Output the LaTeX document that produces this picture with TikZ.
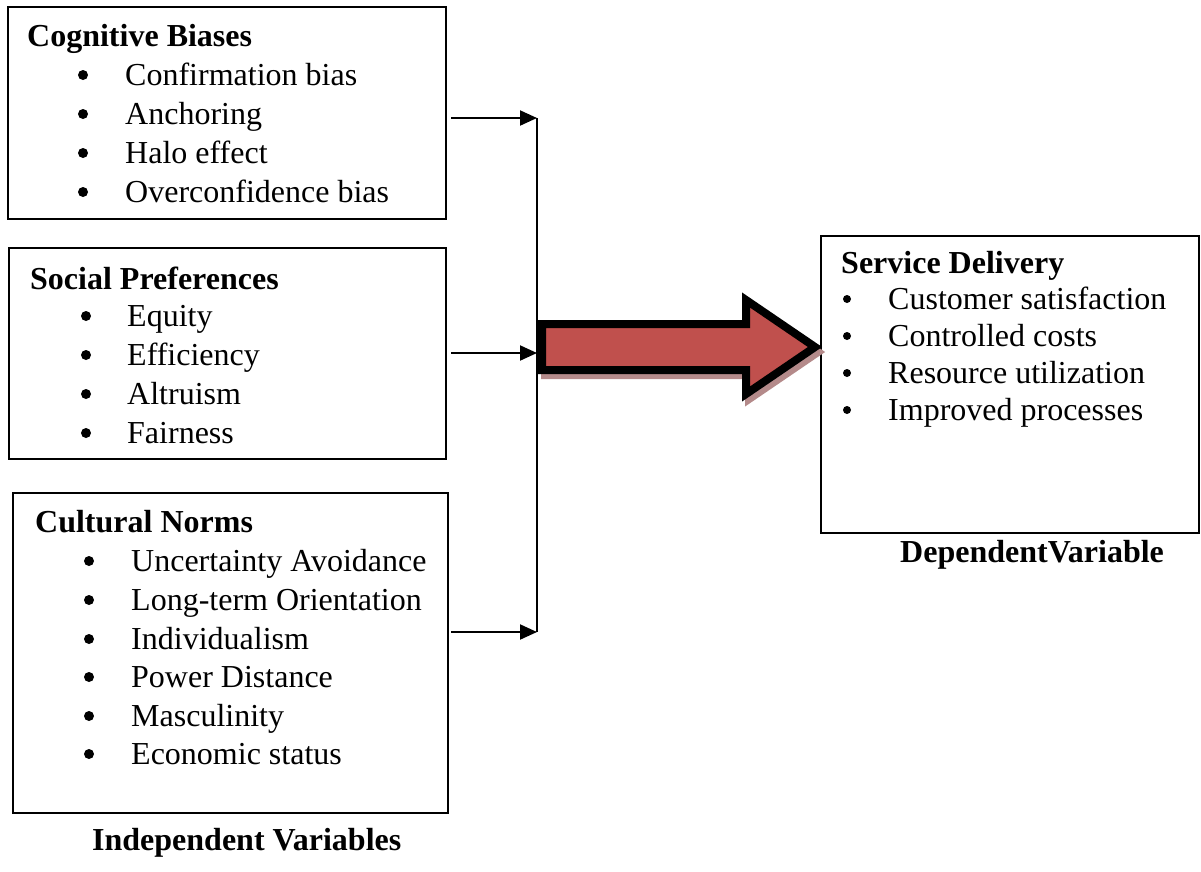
\documentclass[tikz,border=0pt]{standalone}
\usepackage{fontspec}
\setmainfont{Liberation Serif}
\usetikzlibrary{arrows.meta}
\definecolor{arrowred}{HTML}{C0504D}
\definecolor{shadowred}{HTML}{B48A8A}
\begin{document}
\begin{tikzpicture}[x=1pt,y=-1pt,
  box/.style={draw, line width=2pt, inner sep=0pt},
  lbl/.style={anchor=base west, inner sep=0pt, font=\fontsize{32}{38}\selectfont},
  ttl/.style={anchor=base west, inner sep=0pt, font=\fontsize{32}{38}\selectfont\bfseries},
  bul/.style={circle, fill=black, inner sep=0pt, minimum size=10pt, yshift=10pt},
  conn/.style={line width=2pt, -{Triangle[length=17pt,width=15pt]}},
  bigarrow/.style={line width=8pt, line join=miter, draw=black, fill=arrowred},
  bigshadow/.style={line width=8pt, line join=miter, draw=shadowred, fill=shadowred},
]
\useasboundingbox (0,0) rectangle (1201,871);

% boxes
\node[box, minimum width=438pt, minimum height=212pt] (cog) at (227,113) {};
\node[box, minimum width=437pt, minimum height=211pt] (soc) at (227.5,353.5) {};
\node[box, minimum width=435pt, minimum height=320pt] (cul) at (230.5,653) {};
\node[box, minimum width=378pt, minimum height=297pt] (serv) at (1010,384.5) {};

% Cognitive Biases
\node[ttl] (cogt) at (27,46) {Cognitive Biases};
\node[bul] (cogb1) at (83,85) {};
\node[bul] (cogb2) at (83,124) {};
\node[bul] (cogb3) at (83,163) {};
\node[bul] (cogb4) at (83,202) {};
\node[lbl] (cog1) at (125,85) {Confirmation bias};
\node[lbl] (cog2) at (125,124) {Anchoring};
\node[lbl] (cog3) at (125,163) {Halo effect};
\node[lbl] (cog4) at (125,202) {Overconfidence bias};

% Social Preferences
\node[ttl] (soct) at (30,289) {Social Preferences};
\node[bul] (socb1) at (86,326) {};
\node[bul] (socb2) at (86,365) {};
\node[bul] (socb3) at (86,404) {};
\node[bul] (socb4) at (86,443) {};
\node[lbl] (soc1) at (127,326) {Equity};
\node[lbl] (soc2) at (127,365) {Efficiency};
\node[lbl] (soc3) at (127,404) {Altruism};
\node[lbl] (soc4) at (127,443) {Fairness};

% Cultural Norms
\node[ttl] (cult) at (35,532) {Cultural Norms};
\node[bul] (culb1) at (89,571) {};
\node[bul] (culb2) at (89,610) {};
\node[bul] (culb3) at (89,649) {};
\node[bul] (culb4) at (89,687) {};
\node[bul] (culb5) at (89,726) {};
\node[bul] (culb6) at (89,764) {};
\node[lbl] (cul1) at (131,571) {Uncertainty Avoidance};
\node[lbl] (cul2) at (131,610) {Long-term Orientation};
\node[lbl] (cul3) at (131,649) {Individualism};
\node[lbl] (cul4) at (131,687) {Power Distance};
\node[lbl] (cul5) at (131,726) {Masculinity};
\node[lbl] (cul6) at (131,764) {Economic status};

% Service Delivery
\node[ttl] (servt) at (841,273) {Service Delivery};
\node[bul, minimum size=8pt] (servb1) at (847,309) {};
\node[bul, minimum size=8pt] (servb2) at (847,346) {};
\node[bul, minimum size=8pt] (servb3) at (847,383) {};
\node[bul, minimum size=8pt] (servb4) at (847,420) {};
\node[lbl] (serv1) at (888,309) {Customer satisfaction};
\node[lbl] (serv2) at (888,346) {Controlled costs};
\node[lbl] (serv3) at (888,383) {Resource utilization};
\node[lbl] (serv4) at (888,420) {Improved processes};

% captions
\node[ttl] (indep) at (92,850) {Independent Variables};
\node[ttl] (dep) at (900,562) {DependentVariable};

% connectors
\coordinate (j1) at (537,118);
\coordinate (j2) at (537,353);
\coordinate (j3) at (537,632);
\draw[conn, shorten <=4pt] (cog.east |- j1) -- (j1);
\draw[conn, shorten <=4pt] (soc.east |- j2) -- (j2);
\draw[conn, shorten <=2pt] (cul.east |- j3) -- (j3);
\draw[line width=2pt] (j1) -- (j3);

% big arrow
\begin{scope}[shift={(3,5)}]
\fill[bigshadow] (542,324) -- (746,324) -- (746,300) -- (815,347) -- (746,394) -- (746,370) -- (542,370) -- cycle;
\end{scope}
\filldraw[bigarrow] (542,324) -- (746,324) -- (746,300) -- (815,347) -- (746,394) -- (746,370) -- (542,370) -- cycle;
\end{tikzpicture}
\end{document}
